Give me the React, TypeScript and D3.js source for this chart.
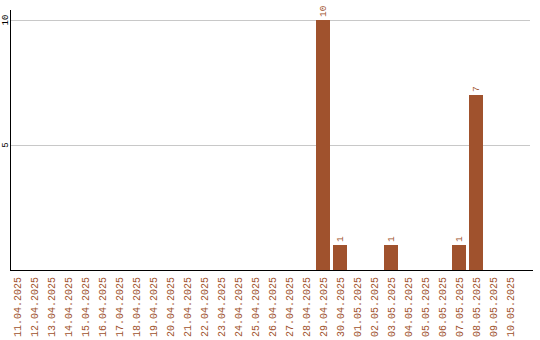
import React from "react";
import * as d3 from "d3";

const dates = [
  "11.04.2025", "12.04.2025", "13.04.2025", "14.04.2025", "15.04.2025",
  "16.04.2025", "17.04.2025", "18.04.2025", "19.04.2025", "20.04.2025",
  "21.04.2025", "22.04.2025", "23.04.2025", "24.04.2025", "25.04.2025",
  "26.04.2025", "27.04.2025", "28.04.2025", "29.04.2025", "30.04.2025",
  "01.05.2025", "02.05.2025", "03.05.2025", "04.05.2025", "05.05.2025",
  "06.05.2025", "07.05.2025", "08.05.2025", "09.05.2025", "10.05.2025",
];
const counts = [
  0, 0, 0, 0, 0, 0, 0, 0, 0, 0,
  0, 0, 0, 0, 0, 0, 0, 0, 10, 1,
  0, 0, 1, 0, 0, 0, 1, 7, 0, 0,
];
const yTicks = [5, 10];

const W = 540;
const H = 340;
const left = 10;
const top = 10;
const bottom = 270;
const right = 530;
const barColor = "#a0522d";
const font = "'Liberation Mono', 'DejaVu Sans Mono', monospace";

export default function App() {
  const x = d3.scaleBand<string>().domain(dates).range([left, left + 17 * dates.length]);
  const y = d3.scaleLinear().domain([0, 10.4]).range([bottom, top]);
  const barW = x.bandwidth() - 3;

  return (
    <svg
      width={W}
      height={H}
      style={{ position: "absolute", left: 0, top: 0, background: "#fff" }}
    >
      {yTicks.map((t) => (
        <g key={t}>
          <line x1={left} x2={right} y1={y(t) + 0.5} y2={y(t) + 0.5} stroke="#c8c8c8" strokeWidth={1} />
          <text
            transform={`translate(4.5,${y(t)}) rotate(-90)`}
            textAnchor="middle"
            dy="0.35em"
            fontFamily={font}
            fontSize={9}
            fill="#000"
          >
            {t}
          </text>
        </g>
      ))}
      {dates.map((d, i) => {
        const v = counts[i];
        const bx = x(d)!;
        const cx = bx + barW / 2;
        return (
          <g key={d}>
            {v > 0 && (
              <>
                <rect x={bx} y={y(v)} width={barW} height={bottom - y(v)} fill={barColor} />
                <text
                  transform={`translate(${cx},${y(v) - 3}) rotate(-90)`}
                  textAnchor="start"
                  dy="0.35em"
                  fontFamily={font}
                  fontSize={9.5}
                  fill={barColor}
                >
                  {v}
                </text>
              </>
            )}
            <text
              transform={`translate(${cx},277) rotate(-90)`}
              textAnchor="end"
              dy="0.35em"
              fontFamily={font}
              fontSize={10}
              fill={barColor}
            >
              {d}
            </text>
          </g>
        );
      })}
      <line x1={left + 0.5} x2={left + 0.5} y1={top} y2={bottom} stroke="#000" strokeWidth={1} />
      <line x1={left} x2={533} y1={bottom + 0.5} y2={bottom + 0.5} stroke="#000" strokeWidth={1} />
    </svg>
  );
}
